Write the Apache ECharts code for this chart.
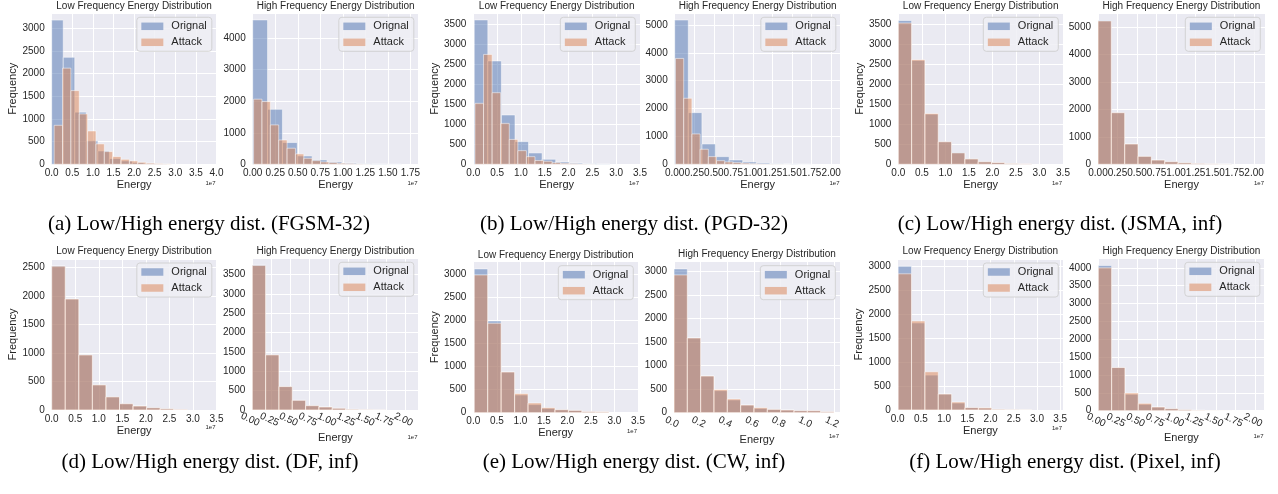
<!DOCTYPE html>
<html><head><meta charset="utf-8">
<script src="https://cdn.jsdelivr.net/npm/echarts@6/dist/echarts.min.js"></script>
<style>html,body{margin:0;padding:0;background:#fff}#c{width:1278px;height:494px}</style>
</head><body><div id="c"></div>
<script>
// ---------------- data (energy values in units of 1e7) ----------------
// each histogram: counts per bin + [first edge, last edge] of its equal-width bins
const aLowOrig = [3180, 2360, 1150, 520, 295, 125, 75, 40, 20, 10];
const aLowOrigRange = [0.00, 2.80];
const aLowAtk = [860, 2120, 1625, 1110, 735, 450, 280, 170, 110, 75, 45, 25, 15, 8];
const aLowAtkRange = [0.06, 2.90];
const aHighOrig = [4580, 1745, 690, 265, 140, 75, 40, 20, 10, 5];
const aHighOrigRange = [0.00, 1.65];
const aHighAtk = [2065, 1990, 1250, 770, 510, 330, 190, 116, 74, 53, 32, 21, 11, 5];
const aHighAtkRange = [0.01, 1.31];

const bLowOrig = [3600, 2577, 1230, 565, 283, 125, 58, 33, 15, 8];
const bLowOrigRange = [0.02, 2.87];
const bLowAtk = [1520, 2740, 1785, 1020, 620, 340, 190, 95, 75, 40, 25, 15, 8, 4];
const bLowAtkRange = [0.035, 2.555];
const bHighOrig = [5180, 1855, 730, 275, 155, 85, 50, 25, 12, 6];
const bHighOrigRange = [0.00, 1.74];
const bHighAtk = [3800, 2370, 1090, 540, 275, 130, 85, 60, 40, 20, 12, 8, 5, 3];
const bHighAtkRange = [0.01, 1.48];

const cLowOrig = [3600, 2600, 1255, 565, 295, 135, 65, 45, 20, 10];
const cLowAtk = [3535, 2620, 1270, 565, 285, 135, 65, 45, 20, 10];
const cLowRange = [0.00, 2.83];
const cHighOrig = [5240, 1880, 740, 290, 155, 95, 55, 30, 15, 8];
const cHighAtk = [5220, 1880, 740, 290, 155, 95, 55, 30, 15, 8];
const cHighRange = [0.00, 1.71];

const dLowOrig = [2525, 1945, 965, 440, 230, 110, 70, 40, 22, 10];
const dLowAtk = [2520, 1945, 965, 440, 230, 110, 70, 40, 22, 10];
const dLowRange = [0.00, 2.88];
const dHighOrig = [3745, 1425, 605, 250, 112, 78, 45, 17, 8, 4];
const dHighAtk = [3733, 1425, 605, 250, 112, 78, 45, 17, 8, 4];
const dHighRange = [0.00, 1.74];

const eLowOrig = [3116, 1988, 882, 383, 175, 94, 65, 50, 22, 15];
const eLowAtk = [2985, 1938, 882, 412, 210, 108, 65, 50, 25, 20];
const eLowRange = [0.02, 2.88];
const eHighOrig = [3057, 1589, 780, 468, 270, 163, 92, 71, 57, 43, 40, 18];
const eHighAtk = [2929, 1589, 780, 490, 291, 163, 106, 71, 57, 43, 43, 21];
const eHighRange = [0.00, 1.20];

const fLowOrig = [3000, 1815, 728, 333, 145, 50, 40, 14, 6, 3];
const fLowAtk = [2841, 1857, 797, 333, 166, 50, 45, 14, 6, 3];
const fLowRange = [0.01, 2.89];
const fHighOrig = [4063, 1208, 459, 178, 103, 56, 28, 12, 6, 3];
const fHighAtk = [3998, 1208, 496, 206, 103, 56, 28, 12, 6, 3];
const fHighRange = [0.00, 1.70];

const seriesNames = ['Orignal', 'Attack'];
const lowTitle = 'Low Frequency Energy Distribution';
const highTitle = 'High Frequency Energy Distribution';
const captions = [
  '(a) Low/High energy dist. (FGSM-32)',
  '(b) Low/High energy dist. (PGD-32)',
  '(c) Low/High energy dist. (JSMA, inf)',
  '(d) Low/High energy dist. (DF, inf)',
  '(e) Low/High energy dist. (CW, inf)',
  '(f) Low/High energy dist. (Pixel, inf)'
];

// ---------------- layout ----------------
const W = 1278;
const panels = [
  {t:lowTitle,  o:aLowOrig, oR:aLowOrigRange, a:aLowAtk, aR:aLowAtkRange, L:51.7, R:216.5, T:13.3, B:164.3, xmax:4.0, xi:0.5, xd:1, ymax:3330, yi:500, fq:33, rot:0, tY:6, eY:183},
  {t:highTitle, o:aHighOrig, oR:aHighOrigRange, a:aHighAtk, aR:aHighAtkRange, L:252.7, R:418.5, T:13.3, B:164.3, xmax:1.84, xi:0.25, xd:2, ymax:4790, yi:1000, rot:0, tY:6, eY:183},
  {t:lowTitle,  o:bLowOrig, oR:bLowOrigRange, a:bLowAtk, aR:bLowAtkRange, L:473.3, R:640, T:13.3, B:164.3, xmax:3.5, xi:0.5, xd:1, ymax:3765, yi:500, fq:30.5, rot:0, tY:6, eY:183},
  {t:highTitle, o:bHighOrig, oR:bHighOrigRange, a:bHighAtk, aR:bHighAtkRange, L:674.7, R:840.5, T:13.3, B:164.3, xmax:2.12, xi:0.25, xd:2, ymax:5420, yi:1000, rot:0, tY:6, eY:183},
  {t:lowTitle,  o:cLowOrig, oR:cLowRange, a:cLowAtk, aR:cLowRange, L:898.3, R:1063, T:13.3, B:164.3, xmax:3.5, xi:0.5, xd:1, ymax:3780, yi:500, fq:31.5, rot:0, tY:6, eY:183},
  {t:highTitle, o:cHighOrig, oR:cHighRange, a:cHighAtk, aR:cHighRange, L:1098, R:1265, T:13.3, B:164.3, xmax:2.14, xi:0.25, xd:2, ymax:5500, yi:1000, rot:0, tY:6, eY:183},
  {t:lowTitle,  o:dLowOrig, oR:dLowRange, a:dLowAtk, aR:dLowRange, L:51.7, R:216.5, T:259, B:410, xmax:3.5, xi:0.5, xd:1, ymax:2646, yi:500, fq:33, rot:0, tY:251.7, eY:427.7},
  {t:highTitle, o:dHighOrig, oR:dHighRange, a:dHighAtk, aR:dHighRange, L:252.3, R:418.5, T:258.3, B:410, xmax:2.17, xi:0.25, xd:2, ymax:3920, yi:500, rot:-25, tY:251.7, eY:437.7},
  {t:lowTitle,  o:eLowOrig, oR:eLowRange, a:eLowAtk, aR:eLowRange, L:473.3, R:638, T:261.7, B:412.7, xmax:3.5, xi:0.5, xd:1, ymax:3272, yi:500, fq:30.5, rot:0, tY:255, eY:431.7},
  {t:highTitle, o:eHighOrig, oR:eHighRange, a:eHighAtk, aR:eHighRange, L:674, R:840, T:261.7, B:412.7, xmax:1.245, xi:0.2, xd:1, ymax:3210, yi:500, rot:-25, tY:254.3, eY:436.7},
  {t:lowTitle,  o:fLowOrig, oR:fLowRange, a:fLowAtk, aR:fLowRange, L:897.7, R:1063, T:259, B:410, xmax:3.56, xi:0.5, xd:1, ymax:3150, yi:500, fq:31, rot:0, tY:251.7, eY:428.3},
  {t:highTitle, o:fHighOrig, oR:fHighRange, a:fHighAtk, aR:fHighRange, L:1098.3, R:1264.5, T:258.3, B:410.7, xmax:2.12, xi:0.25, xd:2, ymax:4266, yi:500, rot:-25, tY:251.7, eY:436.7}
];
const capPos = [[209,224],[634,224],[1060,224],[210,462],[634,462],[1065,462]];

const sans = 'Liberation Sans, Arial, sans-serif';
const serif = 'Liberation Serif, Times New Roman, serif';
const txt = '#262626';
const blue = '#4C72B0', orange = '#DD8452';

function bins(counts, range) {
  const w = (range[1] - range[0]) / counts.length;
  return counts.map((c, i) => [range[0] + i * w, range[0] + (i + 1) * w, c]);
}
function makeRender(color) {
  return function (params, api) {
    const p0 = api.coord([api.value(0), api.value(2)]);
    const p1 = api.coord([api.value(1), 0]);
    return {type: 'rect', shape: {x: p0[0], y: p0[1], width: p1[0] - p0[0], height: p1[1] - p0[1]},
      style: {fill: color, stroke: '#ffffff', lineWidth: 1, opacity: 0.5}};
  };
}
const near = (a, b) => Math.abs(a / b - Math.round(a / b)) < 1e-6;

const grids = [], xAxes = [], yAxes = [], series = [], legends = [], graphics = [];
const helperAxes = [];
panels.forEach((p, i) => {
  grids.push({left: p.L, top: p.T, width: p.R - p.L, height: p.B - p.T, show: true,
    backgroundColor: '#EAEAF2', borderWidth: 0});
  const xLabel = {fontSize: 10, color: txt, fontFamily: sans, margin: 4, hideOverlap: false,
      showMinLabel: true, showMaxLabel: near(p.xmax, p.xi), formatter: v => v.toFixed(p.xd)};
  if (p.rot) {
    // rotated labels: split even/odd ticks over two axes so that none get auto-hidden
    const parity = k => v => (Math.round(v / p.xi) % 2 === k ? v.toFixed(p.xd) : '');
    Object.assign(xLabel, {rotate: p.rot, margin: 5, align: 'center', verticalAlign: 'top', formatter: parity(0)});
    helperAxes.push({type: 'value', gridIndex: i, min: 0, max: p.xmax, interval: p.xi, position: 'bottom', offset: 0,
      axisLine: {show: false}, axisTick: {show: false}, splitLine: {show: false},
      axisLabel: Object.assign({}, xLabel, {formatter: parity(1)})});
  }
  xAxes.push({type: 'value', gridIndex: i, min: 0, max: p.xmax, interval: p.xi, position: 'bottom',
    axisLine: {show: false}, axisTick: {show: false},
    splitLine: {show: true, lineStyle: {color: '#ffffff', width: 1}},
    axisLabel: xLabel,
    name: 'Energy', nameLocation: 'middle', nameGap: p.rot ? 22 : 15,
    nameTextStyle: {fontSize: 11, color: txt, fontFamily: sans}});
  yAxes.push({type: 'value', gridIndex: i, min: 0, max: p.ymax, interval: p.yi,
    axisLine: {show: false}, axisTick: {show: false},
    splitLine: {show: true, lineStyle: {color: '#ffffff', width: 1}},
    axisLabel: {fontSize: 10, color: txt, fontFamily: sans, margin: 7, showMinLabel: true, showMaxLabel: false,
      formatter: v => String(Math.round(v))},
    name: p.fq ? 'Frequency' : '', nameLocation: 'middle', nameGap: p.fq || 0,
    nameTextStyle: {fontSize: 11, color: txt, fontFamily: sans}});
  series.push({type: 'custom', name: seriesNames[0], xAxisIndex: i, yAxisIndex: i,
    renderItem: makeRender(blue), encode: {x: [0, 1], y: 2}, data: bins(p.o, p.oR),
    itemStyle: {color: blue, opacity: 0.5}, silent: true});
  series.push({type: 'custom', name: seriesNames[1], xAxisIndex: i, yAxisIndex: i,
    renderItem: makeRender(orange), encode: {x: [0, 1], y: 2}, data: bins(p.a, p.aR),
    itemStyle: {color: orange, opacity: 0.5}, silent: true});
  legends.push({orient: 'vertical', right: W - (p.R - 4.7), top: p.T + 4,
    selectedMode: false, icon: 'rect', itemWidth: 22, itemHeight: 7.5, itemGap: 5,
    padding: [3.5, 5, 3.5, 4.5], backgroundColor: 'rgba(238,238,245,0.85)',
    borderColor: '#cccccc', borderWidth: 0.8, borderRadius: 3,
    textStyle: {fontSize: 11, color: txt, fontFamily: sans, padding: [0, 0, 0, 3]},
    data: [{name: seriesNames[0], itemStyle: {color: '#9BAED1', opacity: 1, borderWidth: 0}},
           {name: seriesNames[1], itemStyle: {color: '#E4B7A2', opacity: 1, borderWidth: 0}}]});
  graphics.push({type: 'text', x: (p.L + p.R) / 2, y: p.tY, silent: true,
    style: {text: p.t, fontSize: 10, fontFamily: sans, fill: txt, align: 'center', verticalAlign: 'middle'}});
  graphics.push({type: 'text', x: p.R - 1, y: p.eY, silent: true,
    style: {text: '1e7', fontSize: 6, fontFamily: sans, fill: txt, align: 'right', verticalAlign: 'middle'}});
});
captions.forEach((c, i) => {
  graphics.push({type: 'text', x: capPos[i][0], y: capPos[i][1], silent: true,
    style: {text: c, fontSize: 21, fontFamily: serif, fill: '#000', align: 'center', verticalAlign: 'middle'}});
});

const chart = echarts.init(document.getElementById('c'), null, {renderer: 'canvas', width: 1278, height: 494});
chart.setOption({
  animation: false, backgroundColor: '#ffffff',
  grid: grids, xAxis: xAxes.concat(helperAxes), yAxis: yAxes, series: series, legend: legends, graphic: graphics
});
</script></body></html>
